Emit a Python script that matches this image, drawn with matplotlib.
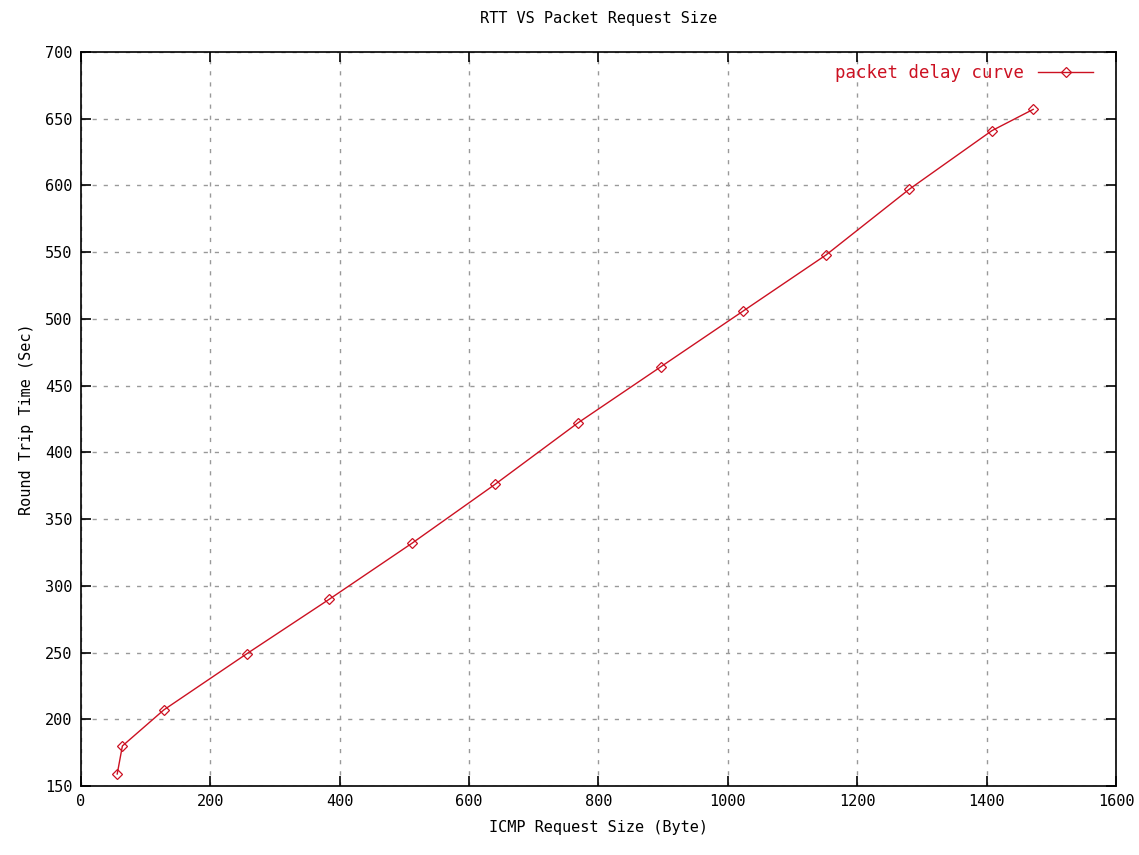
import matplotlib
matplotlib.use("Agg")
import matplotlib.pyplot as plt

packet_size = [56, 64, 128, 256, 384, 512, 640, 768, 896, 1024, 1152, 1280, 1408, 1472]
rtt = [159, 180, 207, 249, 290, 332, 376, 422, 464, 506, 548, 597, 641, 657]
x_ticks = [0, 200, 400, 600, 800, 1000, 1200, 1400, 1600]
y_ticks = [150, 200, 250, 300, 350, 400, 450, 500, 550, 600, 650, 700]

plt.rcParams['font.family'] = ['DejaVu Sans Mono']
fig = plt.figure(figsize=(11.39, 8.55), dpi=100)
ax = fig.add_axes([0.0711, 0.0807, 0.9087, 0.8585])

red = '#cc1122'
ax.plot(packet_size, rtt, color=red, lw=1.0, marker='D', markersize=5,
        markerfacecolor='none', markeredgecolor=red, markeredgewidth=0.9,
        label='packet delay curve')

ax.set_xlim(0, 1600)
ax.set_ylim(150, 700)
ax.set_xticks(x_ticks)
ax.set_yticks(y_ticks)
ax.tick_params(direction='in', length=7, width=1.2, top=True, right=True,
               labelsize=11, pad=6)
for s in ax.spines.values():
    s.set_linewidth(1.2)
ax.grid(True, color='#999999', linestyle=(0, (3, 5)), linewidth=1.0)

ax.set_title('RTT VS Packet Request Size', fontsize=11, pad=21)
ax.set_xlabel('ICMP Request Size (Byte)', fontsize=11, labelpad=8)
ax.set_ylabel('Round Trip Time (Sec)', fontsize=11, labelpad=8)

leg = ax.legend(loc='upper right', markerfirst=False, frameon=False,
                fontsize=12.5, handlelength=3.2, borderaxespad=0.3,
                bbox_to_anchor=(0.99, 1.0))
for t in leg.get_texts():
    t.set_color(red)

fig.savefig('out.png', dpi=100)
